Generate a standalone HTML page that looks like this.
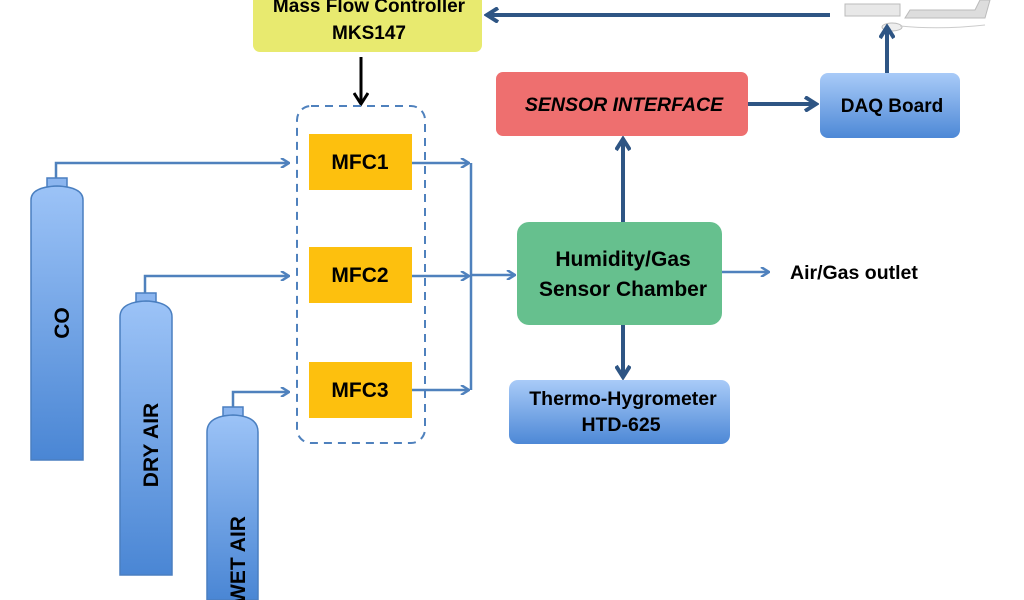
<!DOCTYPE html>
<html><head><meta charset="utf-8"><style>
html,body{margin:0;padding:0;background:#fff;width:1024px;height:600px;overflow:hidden}
svg text{font-family:"Liberation Sans",sans-serif;font-weight:bold;fill:#000}
</style></head><body>
<svg width="1024" height="600" viewBox="0 0 1024 600" xmlns="http://www.w3.org/2000/svg">
<defs>
<linearGradient id="cyl" x1="0" y1="0" x2="0" y2="1"><stop offset="0" stop-color="#9cc3f7"/><stop offset="1" stop-color="#4a86d4"/></linearGradient>
<linearGradient id="blu" x1="0" y1="0" x2="0" y2="1"><stop offset="0" stop-color="#a9cbf8"/><stop offset="1" stop-color="#4d88d6"/></linearGradient>
<marker id="a" markerWidth="10" markerHeight="10" refX="8" refY="5" orient="auto" markerUnits="userSpaceOnUse"><path d="M1,0 L9,5 L1,10" fill="none" stroke="#4f81bd" stroke-width="2.5"/></marker>
<marker id="d" markerWidth="16" markerHeight="16" refX="12" refY="8" orient="auto" markerUnits="userSpaceOnUse"><path d="M2,1 L13,8 L2,15" fill="none" stroke="#2e5584" stroke-width="4"/></marker>
<marker id="k" markerWidth="16" markerHeight="16" refX="12" refY="8" orient="auto" markerUnits="userSpaceOnUse"><path d="M2,1 L13,8 L2,15" fill="none" stroke="#000" stroke-width="3"/></marker>
</defs>
<rect x="845" y="4" width="55" height="12" fill="#e8e8e8" stroke="#bbb"/>
<path d="M905,18 L985,18 L990,0 L980,0 L975,10 L910,10 Z" fill="#ddd" stroke="#bbb"/>
<ellipse cx="892" cy="27" rx="10" ry="4" fill="#eee" stroke="#bbb"/>
<path d="M900,26 Q940,30 985,25" fill="none" stroke="#ccc"/>
<rect x="253" y="-10" width="229" height="62" rx="7" fill="#e8ea6f"/>
<text x="369" y="12" font-size="19" text-anchor="middle">Mass Flow Controller</text>
<text x="369" y="39" font-size="19" text-anchor="middle">MKS147</text>
<line x1="830" y1="15" x2="488" y2="15" stroke="#2e5584" stroke-width="4" marker-end="url(#d)"/>
<line x1="361" y1="57" x2="361" y2="103" stroke="#000" stroke-width="3" marker-end="url(#k)"/>
<rect x="297" y="106" width="128" height="337" rx="14" fill="none" stroke="#4f81bd" stroke-width="2" stroke-dasharray="8,6"/>
<g font-size="21">
<rect x="309" y="134" width="103" height="56" fill="#fdc00e"/><text x="360" y="169" text-anchor="middle">MFC1</text>
<rect x="309" y="247" width="103" height="56" fill="#fdc00e"/><text x="360" y="282" text-anchor="middle">MFC2</text>
<rect x="309" y="362" width="103" height="56" fill="#fdc00e"/><text x="360" y="397" text-anchor="middle">MFC3</text>
</g>
<g stroke="#4a7fc0" stroke-width="1.5">
<rect x="47" y="178" width="20" height="9" fill="#8bb5ef"/>
<path d="M31,200 Q31,187 57,186 Q83,187 83,200 L83,460 L31,460 Z" fill="url(#cyl)"/>
<rect x="136" y="293" width="20" height="9" fill="#8bb5ef"/>
<path d="M120,317 Q120,302 146,301 Q172,302 172,317 L172,575 L120,575 Z" fill="url(#cyl)"/>
<rect x="223" y="407" width="20" height="9" fill="#8bb5ef"/>
<path d="M207,432 Q207,416 233,415 Q258,416 258,432 L258,600 L207,600 Z" fill="url(#cyl)"/>
</g>
<text font-size="21" transform="translate(69,323) rotate(-90)" text-anchor="middle">CO</text>
<text font-size="21" transform="translate(158,445) rotate(-90)" text-anchor="middle">DRY AIR</text>
<text font-size="21" transform="translate(245,560) rotate(-90)" text-anchor="middle">WET AIR</text>
<g fill="none" stroke="#4f81bd" stroke-width="2.5">
<polyline points="56,178 56,163 288,163" marker-end="url(#a)"/>
<polyline points="145,293 145,276 288,276" marker-end="url(#a)"/>
<polyline points="233,407 233,392 288,392" marker-end="url(#a)"/>
<line x1="412" y1="163" x2="468" y2="163" marker-end="url(#a)"/>
<line x1="412" y1="276" x2="468" y2="276" marker-end="url(#a)"/>
<line x1="412" y1="390" x2="468" y2="390" marker-end="url(#a)"/>
<line x1="471" y1="163" x2="471" y2="390"/>
<line x1="471" y1="275" x2="514" y2="275" marker-end="url(#a)"/>
<line x1="722" y1="272" x2="768" y2="272" marker-end="url(#a)"/>
</g>
<rect x="496" y="72" width="252" height="64" rx="7" fill="#ee6f6f"/>
<text x="624" y="111" font-size="19.5" font-style="italic" text-anchor="middle">SENSOR INTERFACE</text>
<rect x="820" y="73" width="140" height="65" rx="8" fill="url(#blu)"/>
<text x="892" y="112" font-size="19" text-anchor="middle">DAQ Board</text>
<line x1="748" y1="104" x2="815" y2="104" stroke="#2e5584" stroke-width="4" marker-end="url(#d)"/>
<line x1="887" y1="73" x2="887" y2="28" stroke="#2e5584" stroke-width="4" marker-end="url(#d)"/>
<line x1="623" y1="222" x2="623" y2="140" stroke="#2e5584" stroke-width="4" marker-end="url(#d)"/>
<rect x="517" y="222" width="205" height="103" rx="12" fill="#66c08e"/>
<text x="623" y="266" font-size="21" text-anchor="middle">Humidity/Gas</text>
<text x="623" y="296" font-size="21" text-anchor="middle">Sensor Chamber</text>
<text x="790" y="279" font-size="19.5">Air/Gas outlet</text>
<line x1="623" y1="325" x2="623" y2="376" stroke="#2e5584" stroke-width="4" marker-end="url(#d)"/>
<rect x="509" y="380" width="221" height="64" rx="9" fill="url(#blu)"/>
<text x="623" y="405" font-size="19.5" text-anchor="middle">Thermo-Hygrometer</text>
<text x="621" y="431" font-size="19.5" text-anchor="middle">HTD-625</text>
</svg>
</body></html>
